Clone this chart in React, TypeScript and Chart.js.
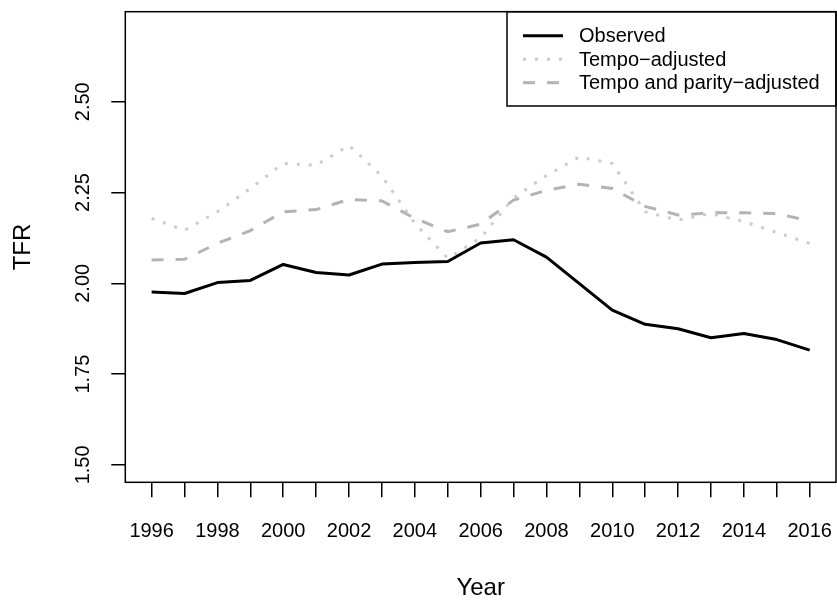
import React, { useEffect, useRef } from "react";
import { Chart, registerables } from "chart.js";

Chart.register(...registerables);

const years = [1996, 1997, 1998, 1999, 2000, 2001, 2002, 2003, 2004, 2005, 2006, 2007, 2008, 2009, 2010, 2011, 2012, 2013, 2014, 2015, 2016];
const observed = [1.976, 1.972, 2.002, 2.008, 2.052, 2.030, 2.023, 2.053, 2.057, 2.060, 2.111, 2.120, 2.072, 1.999, 1.926, 1.887, 1.875, 1.850, 1.862, 1.845, 1.816];
const tempoAdjusted = [2.179, 2.146, 2.197, 2.261, 2.330, 2.325, 2.380, 2.295, 2.165, 2.069, 2.125, 2.235, 2.297, 2.348, 2.330, 2.197, 2.174, 2.192, 2.170, 2.140, 2.110];
const tempoParityAdjusted = [2.064, 2.066, 2.110, 2.145, 2.197, 2.203, 2.231, 2.227, 2.179, 2.142, 2.163, 2.229, 2.256, 2.273, 2.261, 2.212, 2.188, 2.194, 2.194, 2.192, 2.172];
const yTicks = [1.5, 1.75, 2.0, 2.25, 2.5];
const seriesNames = ["Observed", "Tempo\u2212adjusted", "Tempo and parity\u2212adjusted"];

const FONT = "'Liberation Sans', Arial, Helvetica, sans-serif";

export default function App() {
  const ref = useRef<HTMLCanvasElement | null>(null);

  useEffect(() => {
    if (!ref.current) return;
    const toPts = (arr: number[]) => years.map((x, i) => ({ x, y: arr[i] }));

    const boxPlugin = {
      id: "boxAndLegend",
      afterDraw(chart: any) {
        const { ctx, chartArea } = chart;
        ctx.save();
        ctx.strokeStyle = "#000";
        ctx.lineWidth = 1.5;
        ctx.strokeRect(chartArea.left, chartArea.top, chartArea.right - chartArea.left, chartArea.bottom - chartArea.top);
        // legend box (top-right)
        const lx = 507;
        const ly = chartArea.top;
        const lw = chartArea.right - lx;
        const lh = 106 - ly;
        ctx.strokeRect(lx, ly, lw, lh);
        const rows = [36.5, 60, 83.5];
        chart.data.datasets.forEach((ds: any, i: number) => {
          const yy = rows[i] - 0.8;
          ctx.beginPath();
          ctx.strokeStyle = ds.borderColor;
          ctx.lineWidth = ds.borderWidth;
          ctx.setLineDash(ds.borderDash || []);
          ctx.moveTo(523, yy);
          ctx.lineTo(563, yy);
          ctx.stroke();
          ctx.setLineDash([]);
          ctx.fillStyle = "#000";
          ctx.font = `20px ${FONT}`;
          ctx.textAlign = "left";
          ctx.textBaseline = "middle";
          ctx.fillText(ds.label, 579, rows[i]);
        });
        ctx.restore();
      },
    };

    const chart = new Chart(ref.current, {
      type: "line",
      data: {
        datasets: [
          {
            label: seriesNames[0],
            data: toPts(observed),
            borderColor: "#000000",
            borderWidth: 3,
            pointRadius: 0,
            borderJoinStyle: "round",
            tension: 0,
          },
          {
            label: seriesNames[1],
            data: toPts(tempoAdjusted),
            borderColor: "#cccccc",
            borderWidth: 3,
            borderDash: [3, 9],
            pointRadius: 0,
            tension: 0,
          },
          {
            label: seriesNames[2],
            data: toPts(tempoParityAdjusted),
            borderColor: "#b3b3b3",
            borderWidth: 3,
            borderDash: [12, 12],
            pointRadius: 0,
            tension: 0,
          },
        ],
      },
      options: {
        responsive: false,
        animation: false,
        events: [],
        layout: { padding: { left: 0, top: 11.7, right: 1, bottom: 0 } },
        plugins: { legend: { display: false }, tooltip: { enabled: false } },
        scales: {
          x: {
            type: "linear",
            min: 1995.2,
            max: 2016.8,
            afterBuildTicks: (s: any) => {
              s.ticks = years.map((v) => ({ value: v }));
            },
            afterFit: (s: any) => {
              s.height = 117.7;
              s.paddingLeft = 0;
              s.paddingRight = 0;
            },
            border: { display: false },
            grid: {
              drawOnChartArea: false,
              drawTicks: true,
              tickLength: 15,
              tickWidth: 1.5,
              tickColor: "#000",
              color: "#000",
              lineWidth: 1.5,
            },
            ticks: {
              autoSkip: false,
              maxRotation: 0,
              minRotation: 0,
              padding: 22,
              color: "#000",
              font: { family: FONT, size: 20 },
              callback: (v: any) => (Number(v) % 2 === 0 ? String(v) : ""),
            },
            title: {
              display: true,
              text: "Year",
              color: "#000",
              font: { family: FONT, size: 24, lineHeight: 1 },
              padding: { top: 0, bottom: 0 },
            },
          },
          y: {
            type: "linear",
            min: 1.452,
            max: 2.748,
            afterBuildTicks: (s: any) => {
              s.ticks = yTicks.map((v) => ({ value: v }));
            },
            afterFit: (s: any) => {
              s.width = 125.3;
              s.paddingTop = 0;
              s.paddingBottom = 0;
            },
            border: { display: false },
            grid: {
              drawOnChartArea: false,
              drawTicks: true,
              tickLength: 14,
              tickWidth: 1.5,
              tickColor: "#000",
              color: "#000",
              lineWidth: 1.5,
            },
            ticks: {
              minRotation: 90,
              maxRotation: 90,
              crossAlign: "center",
              padding: 8,
              color: "#000",
              font: { family: FONT, size: 20 },
              callback: (v: any) => Number(v).toFixed(2),
            },
            title: {
              display: true,
              text: "TFR",
              color: "#000",
              font: { family: FONT, size: 24, lineHeight: 1 },
              padding: { top: 11, bottom: 0 },
            },
          },
        },
      },
      plugins: [boxPlugin],
    } as any);

    return () => chart.destroy();
  }, []);

  return (
    <div style={{ position: "absolute", left: 0, top: 0, width: 837, height: 600, background: "#fff" }}>
      <canvas ref={ref} width={837} height={600} style={{ display: "block", width: 837, height: 600 }} />
    </div>
  );
}
